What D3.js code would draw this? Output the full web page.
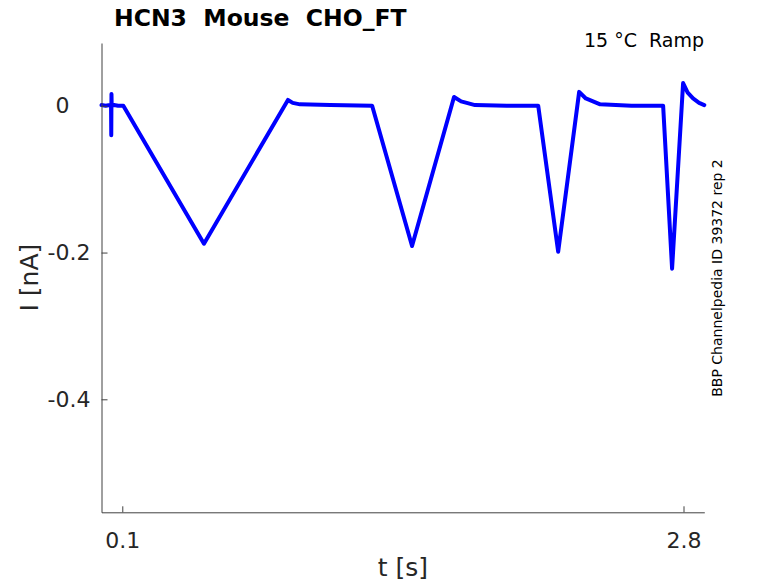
<!DOCTYPE html>
<html>
<head>
<meta charset="utf-8">
<script src="https://cdn.jsdelivr.net/npm/d3@7/dist/d3.min.js"></script>
<style>
  html, body { margin: 0; padding: 0; background: #fff; }
  svg { display: block; }
  text { font-family: "DejaVu Sans", sans-serif; white-space: pre; }
</style>
</head>
<body>
<svg id="chart" width="778" height="583"></svg>
<script>
// ---- data ----
const title = "HCN3  Mouse  CHO_FT";
const subtitle = "15 \u00B0C  Ramp";
const sideNote = "BBP Channelpedia ID 39372 rep 2";
const xLabel = "t [s]";
const yLabel = "I [nA]";
const xTicks = [0.1, 2.8];
const xTickLabels = ["0.1", "2.8"];
const yTicks = [0, -0.2, -0.4];
const yTickLabels = ["0\u2007\u2008", "-0.2", "-0.4"];
const xDomain = [0, 2.9];
const yDomain = [-0.554, 0.0856];

// current trace breakpoints: time (s) and current (nA)
const traceT = [0.000, 0.020, 0.041, 0.046, 0.047, 0.048, 0.049, 0.060, 0.080, 0.105,
                0.493, 0.897, 0.920, 0.955, 1.100, 1.302,
                1.494, 1.696, 1.730, 1.797, 1.950, 2.101,
                2.197, 2.298, 2.330, 2.399, 2.550, 2.702,
                2.745, 2.798, 2.820, 2.846, 2.875, 2.900];
const traceI = [0.001, 0.000, 0.001, 0.000, -0.040, 0.016, 0.000, 0.001, 0.000, 0.000,
                -0.188, 0.008, 0.004, 0.002, 0.001, 0.000,
                -0.191, 0.012, 0.006, 0.001, 0.000, 0.000,
                -0.199, 0.019, 0.010, 0.002, 0.000, 0.000,
                -0.222, 0.031, 0.018, 0.010, 0.004, 0.001];

// ---- layout ----
const svg = d3.select("#chart");
const W = 778, H = 583;
const margin = { left: 101.5, right: W - 704.3, top: 43, bottom: H - 512.3 };

const x = d3.scaleLinear().domain(xDomain).range([margin.left, W - margin.right]);
const y = d3.scaleLinear().domain(yDomain).range([H - margin.bottom, margin.top]);

const axisColor = "#404040";
const textColor = "#262626";

// trace
const line = d3.line().x((d, i) => x(traceT[i])).y((d, i) => y(traceI[i]));
svg.append("path")
  .datum(traceT)
  .attr("d", line)
  .attr("fill", "none")
  .attr("stroke", "#0000ff")
  .attr("stroke-width", 4)
  .attr("stroke-linejoin", "round")
  .attr("stroke-linecap", "round");

// x axis
const xAxis = d3.axisBottom(x)
  .tickValues(xTicks)
  .tickFormat((d, i) => xTickLabels[i])
  .tickSizeInner(-6)
  .tickSizeOuter(0)
  .tickPadding(20);
const gx = svg.append("g")
  .attr("transform", `translate(0,${H - margin.bottom})`)
  .call(xAxis);
gx.select(".domain").attr("stroke", axisColor);
gx.selectAll(".tick line").attr("stroke", axisColor);
gx.selectAll(".tick text")
  .attr("fill", textColor)
  .style("font-size", "22px")
  .style("font-family", "DejaVu Sans, sans-serif");

// y axis
const yAxis = d3.axisLeft(y)
  .tickValues(yTicks)
  .tickFormat((d, i) => yTickLabels[i])
  .tickSizeInner(-6)
  .tickSizeOuter(0)
  .tickPadding(11);
const gy = svg.append("g")
  .attr("transform", `translate(${margin.left},0)`)
  .call(yAxis);
gy.select(".domain").attr("stroke", axisColor);
gy.selectAll(".tick line").attr("stroke", axisColor);
gy.selectAll(".tick text")
  .attr("fill", textColor)
  .style("white-space", "pre")
  .style("font-size", "22px")
  .style("font-family", "DejaVu Sans, sans-serif");

// labels
svg.append("text")
  .attr("x", (margin.left + W - margin.right) / 2)
  .attr("y", 576)
  .attr("text-anchor", "middle")
  .attr("fill", textColor)
  .style("font-size", "25px")
  .text(xLabel);

svg.append("text")
  .attr("transform", `translate(38,${(margin.top + H - margin.bottom) / 2}) rotate(-90)`)
  .attr("text-anchor", "middle")
  .attr("fill", textColor)
  .style("font-size", "25px")
  .text(yLabel);

svg.append("text")
  .attr("x", 114)
  .attr("y", 26)
  .attr("fill", "#000")
  .style("font-size", "23.5px")
  .style("font-weight", "bold")
  .text(title);

svg.append("text")
  .attr("x", 704)
  .attr("y", 47)
  .attr("text-anchor", "end")
  .attr("fill", "#000")
  .style("font-size", "19px")
  .text(subtitle);

svg.append("text")
  .attr("transform", `translate(722,278) rotate(-90)`)
  .attr("text-anchor", "middle")
  .attr("fill", "#000")
  .style("font-size", "14px")
  .text(sideNote);
</script>
</body>
</html>
